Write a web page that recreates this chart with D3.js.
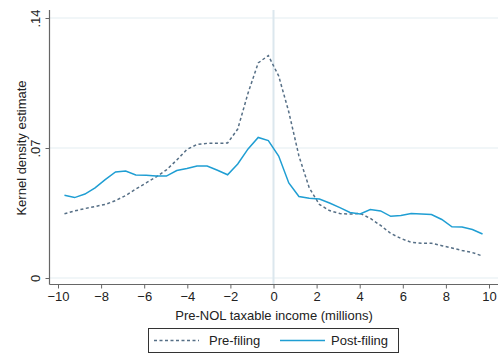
<!DOCTYPE html>
<html>
<head>
<meta charset="utf-8">
<script src="https://cdn.jsdelivr.net/npm/d3@7"></script>
<style>
  html, body { margin: 0; padding: 0; background: #fff; }
  svg { display: block; font-family: "Liberation Sans", Arial, sans-serif; }
</style>
</head>
<body>
<svg id="chart" width="499" height="356"></svg>
<script>
// Evaluation grid of the kernel density (millions)
const incomeGrid = [-9.70, -9.23, -8.75, -8.28, -7.81, -7.33, -6.86, -6.39, -5.91, -5.44,
  -4.97, -4.49, -4.02, -3.55, -3.08, -2.60, -2.13, -1.66, -1.18, -0.71,
  -0.24, 0.24, 0.71, 1.18, 1.66, 2.13, 2.60, 3.08, 3.55, 4.02,
  4.49, 4.97, 5.44, 5.91, 6.39, 6.86, 7.33, 7.81, 8.28, 8.75, 9.23, 9.70];

// Density estimates before filing
const preFiling = [0.0346, 0.0361, 0.0374, 0.0385, 0.0396, 0.0417, 0.0444, 0.0479, 0.0512, 0.0545,
  0.0582, 0.0635, 0.0692, 0.0719, 0.0725, 0.0725, 0.0727, 0.0802, 0.0996, 0.1158,
  0.1198, 0.1088, 0.0894, 0.0657, 0.0485, 0.0396, 0.0363, 0.0347, 0.0344, 0.0348,
  0.0321, 0.0283, 0.0240, 0.0213, 0.0192, 0.0187, 0.0187, 0.0174, 0.0162, 0.0148, 0.0137, 0.0118];

// Density estimates after filing
const postFiling = [0.0445, 0.0433, 0.0452, 0.0485, 0.0530, 0.0571, 0.0576, 0.0555, 0.0553, 0.0549,
  0.0549, 0.0579, 0.0590, 0.0603, 0.0603, 0.0580, 0.0556, 0.0614, 0.0695, 0.0757,
  0.0740, 0.0657, 0.0512, 0.0439, 0.0429, 0.0425, 0.0404, 0.0379, 0.0353, 0.0345,
  0.0369, 0.0361, 0.0332, 0.0337, 0.0347, 0.0345, 0.0342, 0.0315, 0.0276, 0.0274, 0.0261, 0.0237];

const xTicks = [-10, -8, -6, -4, -2, 0, 2, 4, 6, 8, 10];
const yTicks = [0, 0.07, 0.14];
const yTickLabels = ["0", ".07", ".14"];
const seriesNames = ["Pre-filing", "Post-filing"];

const svg = d3.select("#chart");

const x = d3.scaleLinear().domain([-10, 10]).range([58, 489]);
const y = d3.scaleLinear().domain([0, 0.14]).range([278, 18]);

const plotLeft = 49.5, plotRight = 498, plotTop = 10, plotBottom = 284.5;

// Horizontal grid lines
svg.append("g").selectAll("line").data(yTicks).join("line")
  .attr("x1", plotLeft).attr("x2", plotRight)
  .attr("y1", d => y(d)).attr("y2", d => y(d))
  .attr("stroke", "#e4eef1").attr("stroke-width", 1.2);

// Reference line at zero income
svg.append("line")
  .attr("x1", x(0)).attr("x2", x(0))
  .attr("y1", plotTop).attr("y2", plotBottom)
  .attr("stroke", "#dce7ee").attr("stroke-width", 2);

// Y axis
const yAxis = d3.axisLeft(y).tickValues(yTicks)
  .tickFormat((d, i) => yTickLabels[i]).tickSize(4).tickPadding(3);
const gy = svg.append("g").attr("transform", `translate(${plotLeft},0)`).call(yAxis);
gy.select(".domain").attr("d", `M0,${plotTop}V${plotBottom}`).attr("stroke", "#666").attr("stroke-width", 1.2);
gy.selectAll(".tick line").attr("stroke", "#666");
gy.selectAll(".tick text")
  .attr("font-size", 13).attr("fill", "#222")
  .attr("x", null).attr("dy", null)
  .attr("text-anchor", "middle")
  .attr("transform", "translate(-10,0) rotate(-90)")
  .attr("y", 0);

// X axis
const xAxis = d3.axisBottom(x).tickValues(xTicks).tickSize(4).tickPadding(3);
const gx = svg.append("g").attr("transform", `translate(0,${plotBottom})`).call(xAxis);
gx.select(".domain").attr("d", `M${plotLeft},0H${plotRight}`).attr("stroke", "#666").attr("stroke-width", 1.2);
gx.selectAll(".tick line").attr("stroke", "#666");
gx.selectAll(".tick text").attr("font-size", 13).attr("fill", "#222");

// Axis titles
svg.append("text")
  .attr("x", 274).attr("y", 320)
  .attr("text-anchor", "middle").attr("font-size", 13).attr("fill", "#222")
  .text("Pre-NOL taxable income (millions)");

svg.append("text")
  .attr("transform", "translate(26,148) rotate(-90)")
  .attr("text-anchor", "middle").attr("font-size", 13).attr("fill", "#222")
  .text("Kernel density estimate");

// Density curves
const line = (vals) => d3.line()
  .x((d, i) => x(incomeGrid[i]))
  .y(d => y(d))(vals);

svg.append("path")
  .attr("d", line(preFiling))
  .attr("fill", "none").attr("stroke", "#566f86")
  .attr("stroke-width", 1.5).attr("stroke-dasharray", "3,2.5");

svg.append("path")
  .attr("d", line(postFiling))
  .attr("fill", "none").attr("stroke", "#1f9ed3")
  .attr("stroke-width", 1.5);

// Legend
const lg = svg.append("g");
lg.append("rect")
  .attr("x", 148.5).attr("y", 328.5).attr("width", 250).attr("height", 24)
  .attr("fill", "#fff").attr("stroke", "#333").attr("stroke-width", 1);
lg.append("line").attr("x1", 154).attr("x2", 199).attr("y1", 340.5).attr("y2", 340.5)
  .attr("stroke", "#566f86").attr("stroke-width", 1.5).attr("stroke-dasharray", "3,2.5");
lg.append("text").attr("x", 209).attr("y", 345).attr("font-size", 13).attr("fill", "#222")
  .text(seriesNames[0]);
lg.append("line").attr("x1", 280).attr("x2", 325).attr("y1", 340.5).attr("y2", 340.5)
  .attr("stroke", "#1f9ed3").attr("stroke-width", 1.5);
lg.append("text").attr("x", 331).attr("y", 345).attr("font-size", 13).attr("fill", "#222")
  .text(seriesNames[1]);
</script>
</body>
</html>
